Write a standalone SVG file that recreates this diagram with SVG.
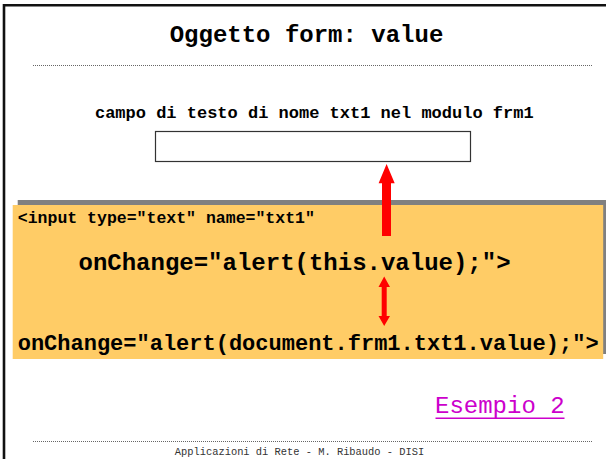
<svg xmlns="http://www.w3.org/2000/svg" width="606" height="459" viewBox="0 0 606 459">
<style>
.mono{font-family:"Liberation Mono","Courier New",monospace;}
.b{font-weight:bold;fill:#000;}
.dots{stroke:#666;stroke-width:1;stroke-dasharray:1,1;fill:none;}
.red{fill:#FF0000;}
</style>
<rect x="0" y="0" width="606" height="459" fill="#fff"/>
<g id="frame">
<path d="M4,459 V5.3 H606" fill="none" stroke="#111" stroke-width="2.6"/>
<line class="dots" x1="33" y1="65.5" x2="593" y2="65.5"/>
<line class="dots" x1="33" y1="441.5" x2="593" y2="441.5"/>
</g>
<g id="title">
<text class="mono b" x="306.5" y="41.7" font-size="24" text-anchor="middle">Oggetto form: value</text>
</g>
<g id="field">
<text class="mono b" x="314.3" y="117.7" font-size="17" text-anchor="middle">campo di testo di nome txt1 nel modulo frm1</text>
<rect x="155.5" y="131.5" width="315" height="30" fill="#fff" stroke="#333" stroke-width="1.2"/>
</g>
<g id="code">
<rect x="17.7" y="200" width="590" height="154" fill="#808080"/>
<rect x="12.7" y="205" width="590.5" height="154" fill="#FFCC66"/>
<text class="mono b" x="17.8" y="222.7" font-size="16.5">&lt;input type="text" name="txt1"</text>
<text class="mono b" x="78.5" y="270" font-size="24">onChange="alert(this.value);"&gt;</text>
<text class="mono b" x="17.7" y="350" font-size="22">onChange="alert(document.frm1.txt1.value);"&gt;</text>
</g>
<g id="connectors">
<polygon class="red" points="382,236 382,183.3 378.6,183.3 386.6,164 394.7,183.3 391,183.3 391,236"/>
<polygon class="red" points="384.2,276.5 390,287 386.7,287 386.7,316 390,316 384.2,326 378.5,316 381.7,316 381.7,287 378.5,287"/>
</g>
<g id="link">
<text class="mono" x="435" y="413.3" font-size="24" fill="#CC00CC">Esempio 2</text>
<line x1="435.5" y1="418.3" x2="564.5" y2="418.3" stroke="#CC00CC" stroke-width="1.6"/>
</g>
<g id="footer">
<text class="mono" x="299.5" y="454.5" font-size="10.4" text-anchor="middle" fill="#333">Applicazioni di Rete - M. Ribaudo - DISI</text>
</g>
</svg>
